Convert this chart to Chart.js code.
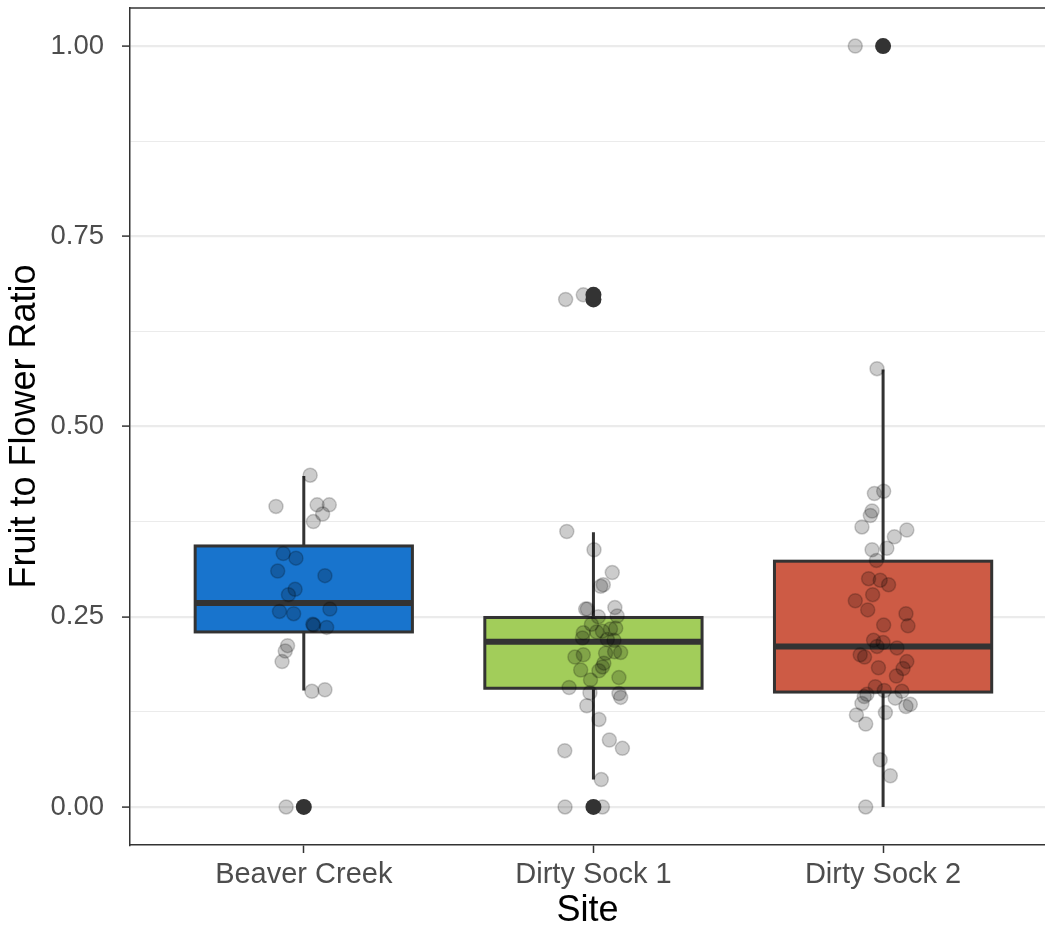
<!DOCTYPE html>
<html>
<head>
<meta charset="utf-8">
<script src="https://cdn.jsdelivr.net/npm/chart.js@4.4.0/dist/chart.umd.min.js"></script>
<style>
  html, body { margin: 0; padding: 0; background: #fff; }
  #wrap { width: 1045px; height: 930px; }
</style>
</head>
<body>
<div id="wrap"><canvas id="myChart" width="1045" height="930"></canvas></div>
<script>
const ctx = document.getElementById('myChart');

// sites and box colours
const sites = ['Beaver Creek', 'Dirty Sock 1', 'Dirty Sock 2'];
const boxColors = ['#1874CD', '#A2CD5A', '#CD5B45'];

// box statistics
const lowerWhisker = [0.153, 0.036, 0.000];
const q1 = [0.230, 0.156, 0.151];
const medians = [0.268, 0.217, 0.211];
const q3 = [0.343, 0.249, 0.323];
const upperWhisker = [0.435, 0.361, 0.575];

// boxplot outliers (site number, value)
const outlierSite = [1, 2, 2, 2, 3];
const outlierValues = [0.000, 0.000, 0.667, 0.673, 1.000];

// jittered raw observations, with horizontal jitter offset
const beaverValues = [0.436, 0.395, 0.397, 0.397, 0.385, 0.375, 0.333, 0.327, 0.310, 0.304,
  0.286, 0.279, 0.257, 0.254, 0.260, 0.239, 0.240, 0.236, 0.212, 0.205, 0.191, 0.152, 0.154, 0.000];
const beaverJitter = [0.022, -0.096, 0.046, 0.088, 0.065, 0.033, -0.071, -0.027, -0.090, 0.073,
  -0.030, -0.053, -0.084, -0.035, 0.090, 0.034, 0.031, 0.079, -0.056, -0.064, -0.075, 0.028, 0.073, -0.061];

const sock1Values = [0.362, 0.338, 0.308, 0.292, 0.290, 0.260, 0.260, 0.262, 0.251, 0.250,
  0.240, 0.235, 0.234, 0.229, 0.231, 0.230, 0.222, 0.220, 0.219, 0.203,
  0.200, 0.204, 0.202, 0.197, 0.189, 0.184, 0.180, 0.179, 0.170, 0.167,
  0.157, 0.150, 0.149, 0.144, 0.133, 0.115, 0.088, 0.077, 0.074, 0.036,
  0.000, 0.000, 0.667, 0.673];
const sock1Jitter = [-0.092, 0.002, 0.065, 0.034, 0.025, -0.027, -0.021, 0.074, 0.082, 0.017,
  -0.007, 0.077, 0.059, -0.035, 0.031, 0.011, -0.038, 0.048, 0.071, 0.094,
  -0.035, 0.073, 0.042, -0.064, 0.036, 0.031, -0.044, 0.019, 0.088, -0.010,
  -0.084, -0.012, 0.088, 0.094, -0.023, 0.019, 0.055, 0.100, -0.099, 0.027,
  -0.098, 0.031, -0.096, -0.035];

const sock2Values = [0.576, 0.412, 0.415, 0.389, 0.383, 0.368, 0.355, 0.364, 0.338, 0.340,
  0.324, 0.300, 0.298, 0.292, 0.279, 0.271, 0.259, 0.254, 0.238, 0.239,
  0.219, 0.216, 0.211, 0.209, 0.200, 0.197, 0.191, 0.182, 0.183, 0.172,
  0.158, 0.153, 0.152, 0.148, 0.145, 0.143, 0.136, 0.135, 0.132, 0.124,
  0.121, 0.109, 0.062, 0.041, 0.000, 1.000];
const sock2Jitter = [-0.021, -0.030, 0.002, -0.038, -0.044, -0.073, 0.039, 0.082, -0.038, 0.013,
  -0.023, -0.050, -0.010, 0.019, -0.036, -0.096, -0.053, 0.079, 0.086, 0.002,
  -0.033, 0.000, -0.021, 0.048, -0.079, -0.064, 0.082, 0.069, -0.016, 0.046,
  -0.027, 0.004, 0.065, -0.056, -0.065, 0.042, -0.073, 0.094, 0.079, 0.008,
  -0.092, -0.060, -0.010, 0.025, -0.060, -0.096];

// y axis ticks: labelled majors and unlabelled minors
const yMajor = [0, 0.25, 0.5, 0.75, 1];
const yTickValues = [0, 0.125, 0.25, 0.375, 0.5, 0.625, 0.75, 0.875, 1];

const groupValues = [beaverValues, sock1Values, sock2Values];
const groupJitter = [beaverJitter, sock1Jitter, sock2Jitter];

const jitterPoints = [];
groupValues.forEach(function(vals, g){
  vals.forEach(function(v, k){
    jitterPoints.push({ x: g + 1 + groupJitter[g][k], y: v });
  });
});
const outlierPoints = outlierValues.map(function(v, k){ return { x: outlierSite[k], y: v }; });

const isMajor = v => yMajor.some(m => Math.abs(m - v) < 1e-6);
const FONT = "'Liberation Sans', Arial, Helvetica, sans-serif";

// draws the boxes and whiskers through the chart's scales
const boxPlugin = {
  id: 'boxes',
  beforeDatasetsDraw(chart) {
    const c = chart.ctx;
    const x = chart.scales.x, y = chart.scales.y;
    c.save();
    sites.forEach(function(s, i){
      const cx = x.getPixelForValue(i + 1);
      const left = x.getPixelForValue(i + 1 - 0.375);
      const right = x.getPixelForValue(i + 1 + 0.375);
      const top = y.getPixelForValue(q3[i]);
      const bot = y.getPixelForValue(q1[i]);
      c.strokeStyle = '#333333';
      c.lineWidth = 3;
      c.beginPath();
      c.moveTo(cx, y.getPixelForValue(upperWhisker[i]));
      c.lineTo(cx, top);
      c.moveTo(cx, bot);
      c.lineTo(cx, y.getPixelForValue(lowerWhisker[i]));
      c.stroke();
      c.fillStyle = boxColors[i];
      c.fillRect(left, top, right - left, bot - top);
      c.strokeRect(left, top, right - left, bot - top);
      const my = y.getPixelForValue(medians[i]);
      c.lineWidth = 6;
      c.beginPath();
      c.moveTo(left, my);
      c.lineTo(right, my);
      c.stroke();
    });
    c.restore();
  },
  afterDraw(chart) {
    // top panel border
    const c = chart.ctx, a = chart.chartArea;
    c.save();
    c.strokeStyle = '#333333';
    c.lineWidth = 1.5;
    c.beginPath();
    c.moveTo(a.left, a.top);
    c.lineTo(a.right, a.top);
    c.stroke();
    c.restore();
  }
};

new Chart(ctx, {
  type: 'scatter',
  data: {
    datasets: [{
      label: 'Outliers',
      data: outlierPoints,
      pointRadius: 8,
      pointBorderWidth: 0,
      backgroundColor: '#333333',
      borderColor: '#333333',
      order: 0
    }, {
      label: 'Observations',
      data: jitterPoints,
      pointRadius: 7,
      pointBorderWidth: 1.5,
      backgroundColor: 'rgba(0,0,0,0.2)',
      borderColor: 'rgba(0,0,0,0.2)',
      order: 1
    }]
  },
  plugins: [boxPlugin],
  options: {
    responsive: false,
    animation: false,
    layout: { autoPadding: false, padding: { top: 8, right: 0, left: 0, bottom: 0 } },
    plugins: { legend: { display: false }, tooltip: { enabled: false } },
    scales: {
      x: {
        type: 'linear',
        min: 0.4,
        max: 3.559,
        afterBuildTicks: function(scale){ scale.ticks = sites.map((s, i) => ({ value: i + 1 })); },
        afterFit: function(scale){
          scale.height = 85;
          scale.paddingLeft = 0;
          scale.paddingRight = 0;
        },
        ticks: {
          callback: function(v){ return sites[Math.round(v) - 1]; },
          color: '#4D4D4D',
          font: { family: FONT, size: 29 },
          padding: 5,
          maxRotation: 0
        },
        grid: { drawOnChartArea: false, drawTicks: true, tickLength: 8, tickColor: '#333333', tickWidth: 1.5 },
        border: { color: '#333333', width: 1.5 },
        title: {
          display: true,
          text: 'Site',
          color: '#000000',
          font: { family: FONT, size: 36, lineHeight: 1.05 },
          padding: 0
        }
      },
      y: {
        min: -0.05,
        max: 1.05,
        afterBuildTicks: function(scale){ scale.ticks = yTickValues.map(v => ({ value: v })); },
        afterFit: function(scale){
          scale.width = 130;
          scale.paddingTop = 0;
          scale.paddingBottom = 0;
        },
        ticks: {
          callback: function(v){ return isMajor(v) ? v.toFixed(2) : ''; },
          color: '#4D4D4D',
          font: { family: FONT, size: 27.5 },
          padding: 18
        },
        grid: {
          color: '#EBEBEB',
          lineWidth: c => isMajor(c.tick.value) ? 2.2 : 1.1,
          tickLength: 8,
          tickColor: c => isMajor(c.tick.value) ? '#333333' : 'rgba(0,0,0,0)',
          tickWidth: 1.5
        },
        border: { color: '#333333', width: 1.5 },
        title: {
          display: true,
          text: 'Fruit to Flower Ratio',
          color: '#000000',
          font: { family: FONT, size: 36, lineHeight: 1.1 },
          padding: { top: 5, bottom: 0 }
        }
      }
    }
  }
});
</script>
</body>
</html>
